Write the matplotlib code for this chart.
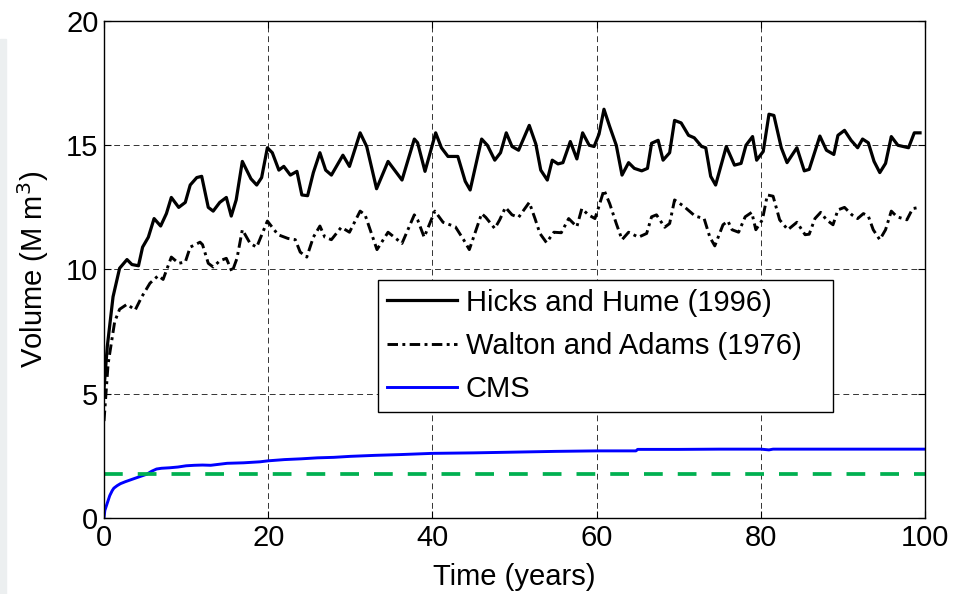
import numpy as np
import matplotlib.pyplot as plt
from matplotlib.patches import Rectangle

plt.rcParams['font.family'] = ['Liberation Sans', 'DejaVu Sans']

# Hicks and Hume (1996) volume estimate
hicks_t = [0, 0.4, 1.1, 1.9, 2.8, 3.4, 4.2, 4.7, 5.4, 6.1, 6.9, 7.6, 8.2, 9.1, 9.9,
           10.5, 11.3, 11.9, 12.7, 13.3, 14.1, 14.9, 15.5, 16.1, 16.85, 17.9, 18.6,
           19.2, 19.9, 20.5, 21.3, 21.9, 22.7, 23.5, 24.1, 24.8, 25.5, 26.3, 27.0,
           27.7, 29.1, 29.9, 31.2, 32.0, 33.2, 34.6, 36.3, 37.8, 38.2, 39.1, 40.4,
           41.1, 41.9, 43.1, 44.0, 44.6, 46.0, 46.7, 47.6, 48.3, 49.0, 49.7, 50.5,
           51.8, 52.6, 53.2, 54.0, 54.6, 55.3, 55.9, 56.8, 57.6, 58.3, 59.1, 59.7,
           60.3, 60.9, 61.6, 62.4, 63.1, 63.9, 64.6, 65.5, 66.2, 66.7, 67.5, 68.1,
           68.9, 69.5, 70.3, 71.2, 71.9, 72.8, 73.3, 73.9, 74.5, 75.8, 76.8, 77.6,
           78.2, 79.0, 79.5, 80.3, 81.0, 81.6, 82.5, 83.2, 84.4, 85.3, 85.9, 87.2,
           88.0, 88.9, 89.4, 90.2, 91.0, 91.8, 92.4, 93.1, 93.8, 94.5, 95.2, 95.9,
           96.7, 98.0, 98.7, 99.4]
hicks_v = [5.2, 6.9, 8.9, 10.05, 10.4, 10.2, 10.15, 10.9, 11.3, 12.05, 11.75, 12.25,
           12.9, 12.5, 12.7, 13.4, 13.7, 13.75, 12.5, 12.35, 12.7, 12.9, 12.15, 12.8,
           14.35, 13.65, 13.4, 13.7, 14.9, 14.7, 14.0, 14.15, 13.8, 13.95, 13.0,
           12.97, 13.9, 14.7, 14.0, 13.8, 14.6, 14.15, 15.5, 14.95, 13.25, 14.35,
           13.6, 15.25, 15.1, 13.95, 15.5, 14.9, 14.55, 14.55, 13.55, 13.2, 15.25,
           15.0, 14.4, 14.7, 15.5, 14.95, 14.8, 15.8, 15.05, 14.0, 13.6, 14.4, 14.25,
           14.3, 15.15, 14.45, 15.5, 15.0, 14.95, 15.45, 16.45, 15.75, 15.0, 13.8,
           14.3, 14.07, 13.97, 14.07, 15.08, 15.2, 14.4, 14.7, 16.0, 15.9, 15.4, 15.3,
           14.95, 14.9, 13.75, 13.4, 14.95, 14.2, 14.27, 15.0, 15.35, 14.4, 14.75,
           16.25, 16.2, 14.9, 14.3, 14.9, 13.97, 14.03, 15.37, 14.8, 14.63, 15.4,
           15.6, 15.2, 14.9, 15.25, 15.1, 14.35, 13.9, 14.27, 15.35, 15.0, 14.9,
           15.5, 15.5]

# Walton and Adams (1976) volume estimate
walton_t = [0, 0.5, 1.3, 1.9, 2.8, 3.8, 4.6, 5.6, 6.6, 7.2, 8.2, 9.1, 9.9, 10.5,
            11.7, 12.0, 12.7, 13.3, 14.1, 14.9, 15.6, 16.2, 16.85, 17.8, 18.6, 19.9,
            21.2, 22.4, 23.3, 23.9, 24.7, 25.5, 26.3, 26.9, 27.7, 28.9, 29.9, 31.2,
            31.8, 33.25, 34.6, 36.3, 37.8, 38.2, 39.0, 40.3, 41.3, 42.8, 43.8, 44.5,
            46.0, 46.5, 47.6, 48.2, 48.9, 49.7, 50.5, 51.8, 52.5, 53.1, 53.9, 54.8,
            55.7, 56.6, 57.6, 58.2, 59.0, 59.8, 60.2, 60.9, 61.6, 62.4, 63.1, 63.9,
            65.1, 66.1, 66.7, 67.3, 68.3, 68.9, 69.5, 70.6, 72.0, 73.1, 73.8, 74.4,
            75.4, 76.0, 76.5, 77.3, 78.1, 78.9, 79.4, 80.2, 80.8, 81.5, 82.3, 83.3,
            84.4, 85.4, 85.9, 86.6, 87.3, 88.0, 88.8, 89.4, 90.2, 91.1, 91.8, 92.5,
            93.1, 93.7, 94.5, 95.2, 95.9, 96.6, 97.8, 98.5, 99.3]
walton_v = [3.9, 6.2, 7.9, 8.4, 8.6, 8.37, 8.9, 9.45, 9.75, 9.6, 10.5, 10.25, 10.3,
            10.9, 11.1, 11.0, 10.25, 10.1, 10.35, 10.45, 9.9, 10.45, 11.6, 11.05,
            10.9, 11.95, 11.4, 11.25, 11.2, 10.7, 10.5, 11.3, 11.75, 11.3, 11.2, 11.7,
            11.5, 12.35, 12.2, 10.8, 11.5, 11.05, 12.2, 12.0, 11.3, 12.35, 11.9,
            11.72, 11.2, 10.8, 12.25, 12.1, 11.65, 12.0, 12.5, 12.2, 12.1, 12.7,
            12.05, 11.45, 11.08, 11.5, 11.48, 12.05, 11.72, 12.45, 12.2, 12.05, 12.45,
            13.2, 12.65, 11.85, 11.2, 11.5, 11.3, 11.45, 12.12, 12.2, 11.7, 11.85,
            12.8, 12.55, 12.15, 12.05, 11.3, 10.95, 11.8, 11.95, 11.6, 11.5, 12.12,
            12.3, 11.6, 12.0, 13.0, 12.95, 12.0, 11.6, 11.9, 11.4, 11.42, 12.05, 12.3,
            12.0, 11.8, 12.4, 12.5, 12.2, 12.05, 12.25, 12.15, 11.6, 11.2, 11.6,
            12.35, 12.12, 12.0, 12.45, 12.5]

# CMS model result
cms_t = [0, 0.1, 0.3, 0.5, 0.7, 1.0, 1.2, 1.6, 2.0, 2.6, 3.2, 3.8, 4.5, 5.2, 5.8,
         6.4, 7.0, 8, 9, 10, 11, 12, 13, 14, 15, 17, 19, 20, 22, 24, 26, 28, 30, 33,
         36, 40, 45, 50, 55, 60, 64.8, 65, 70, 75, 80, 81, 81.5, 90, 100]
cms_v = [0, 0.3, 0.5, 0.7, 0.9, 1.1, 1.2, 1.3, 1.38, 1.46, 1.53, 1.6, 1.68, 1.76,
         1.88, 1.97, 2.0, 2.02, 2.05, 2.1, 2.12, 2.13, 2.12, 2.16, 2.2, 2.22, 2.26,
         2.3, 2.35, 2.38, 2.42, 2.44, 2.48, 2.52, 2.55, 2.6, 2.62, 2.65, 2.68, 2.70,
         2.70, 2.76, 2.76, 2.77, 2.77, 2.74, 2.77, 2.77, 2.77]

# reference volume level
ref_level = 1.77

fig = plt.figure(figsize=(9.72, 5.94), dpi=100)
fig.patches.append(Rectangle((0, 0), 6 / 972, 0.935, transform=fig.transFigure,
                             color='#eceff0', zorder=0))
ax = fig.add_axes([0.107, 0.128, 0.8446, 0.8366])

ax.plot(hicks_t, hicks_v, color='k', lw=2.3, label='Hicks and Hume (1996)')
ax.plot(walton_t, walton_v, color='k', lw=2.1, linestyle=(0, (3.6, 1.5, 1, 1.5)),
        label='Walton and Adams (1976)')
ax.plot(cms_t, cms_v, color='#0000ff', lw=2.1, label='CMS')
ax.axhline(ref_level, color='#00b050', lw=2.7, linestyle=(0, (5, 4)))

ax.set_xlim(0, 100)
ax.set_ylim(0, 20)
ax.set_xticks([0, 20, 40, 60, 80, 100])
ax.set_yticks([0, 5, 10, 15, 20])
ax.grid(True, color='k', lw=0.7, linestyle=(0, (6, 4)), alpha=0.8)
ax.tick_params(direction='in', length=5, width=0.8, top=True, right=True,
               labelsize=21, pad=4)
for s in ax.spines.values():
    s.set_linewidth(1.0)

ax.set_xlabel('Time (years)', fontsize=21, labelpad=8)
ax.set_ylabel('Volume (M m$^3$)', fontsize=21, labelpad=11)

leg = ax.legend(loc='upper left', bbox_to_anchor=(0.334, 0.0, 0.554, 0.479),
                mode='expand', fontsize=21,
                frameon=True, fancybox=False, framealpha=1, edgecolor='k',
                handlelength=2.4, borderpad=0.3, labelspacing=0.52,
                handletextpad=0.3, borderaxespad=0)
leg.get_frame().set_linewidth(1.0)

fig.savefig('out.png', dpi=100)
